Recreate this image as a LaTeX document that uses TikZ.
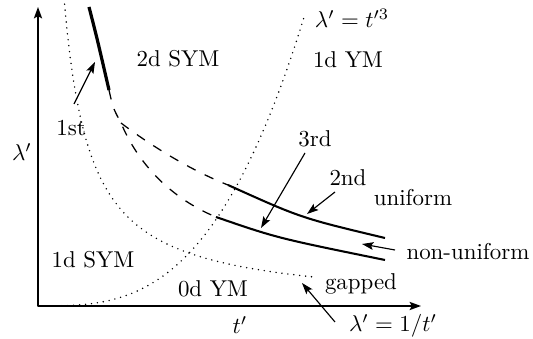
\documentclass[tikz,border=0pt]{standalone}
\usetikzlibrary{arrows.meta}
\begin{document}
\begin{tikzpicture}[x=0.4366pt,y=-0.4366pt,
  axis/.style={line width=0.6pt,-{Stealth[length=5pt,width=3.6pt,inset=1pt]}},
  ptr/.style={line width=0.5pt,-{Stealth[length=5pt,width=3.4pt,inset=1pt]}},
  dots/.style={line width=0.7pt,line cap=round,dash pattern=on 0pt off 2.6pt},
  dsh/.style={line width=0.55pt,dash pattern=on 4.2pt off 4.4pt},
  solidline/.style={line width=0.9pt},
  firstline/.style={line width=1.4pt},
  lbl/.style={inner sep=0pt}]
\useasboundingbox (0,0) rectangle (533,339);
% axes
\coordinate (O) at (38,306);
\coordinate (Ytop) at (38,7);
\coordinate (Xend) at (421,306);
\draw[axis] (O) -- (Ytop);
\draw[axis] (O) -- (Xend);
% dotted curves
\draw[dots] plot[domain=26:275,samples=80,variable=\t] ({38+\t},{306-8000/\t});
\draw[dots] plot[domain=0:267,samples=80,variable=\t] ({38+\t},{306-15.34*(\t/100)^3});
% first order line
\draw[firstline] (89,7) .. controls (97,38) .. (109,90);
% dashed
\coordinate (br) at (121,123);
\draw[dsh] (109,90) .. controls (113,108) .. (br) .. controls (140,168) and (175,200) .. (216,217);
\draw[dsh] (br) .. controls (150,145) and (190,170) .. (228,185);
% solid lines
\draw[solidline] (228,185) .. controls (301,218) .. (385,238);
\draw[solidline] (216,217) .. controls (277,238) .. (385,260);
% labels
\node[lbl] (lam) at (22,152) {$\lambda'$};
\node[lbl] (tt) at (240,325) {$t'$};
\node[lbl] (sym2) at (178,59) {2d SYM};
\node[lbl] (ym1) at (348,60) {1d YM};
\node[lbl] (cub) at (352,18) {$\lambda'=t'^3$};
\node[lbl] (first) at (71,128) {1st};
\node[lbl] (third) at (315,139) {3rd};
\node[lbl] (second) at (348,178) {2nd};
\node[lbl] (unif) at (413,198) {uniform};
\node[lbl] (nonu) at (468,252) {non-uniform};
\node[lbl] (gap) at (361,284) {gapped};
\node[lbl] (inv) at (393,326) {$\lambda'=1/t'$};
\node[lbl] (sym1) at (93,260) {1d SYM};
\node[lbl] (ym0) at (213,289) {0d YM};
% pointer arrows
\coordinate (a1s) at (74,104); \coordinate (a1e) at (95,62);
\coordinate (a3s) at (305,153); \coordinate (a3e) at (261,228);
\coordinate (a2s) at (335,192); \coordinate (a2e) at (307,214);
\coordinate (ans) at (395,250); \coordinate (ane) at (362,244);
\coordinate (ais) at (335,322); \coordinate (aie) at (302,283);
\draw[ptr] (a1s) -- (a1e);
\draw[ptr] (a3s) -- (a3e);
\draw[ptr] (a2s) -- (a2e);
\draw[ptr] (ans) -- (ane);
\draw[ptr] (ais) -- (aie);
\end{tikzpicture}
\end{document}
